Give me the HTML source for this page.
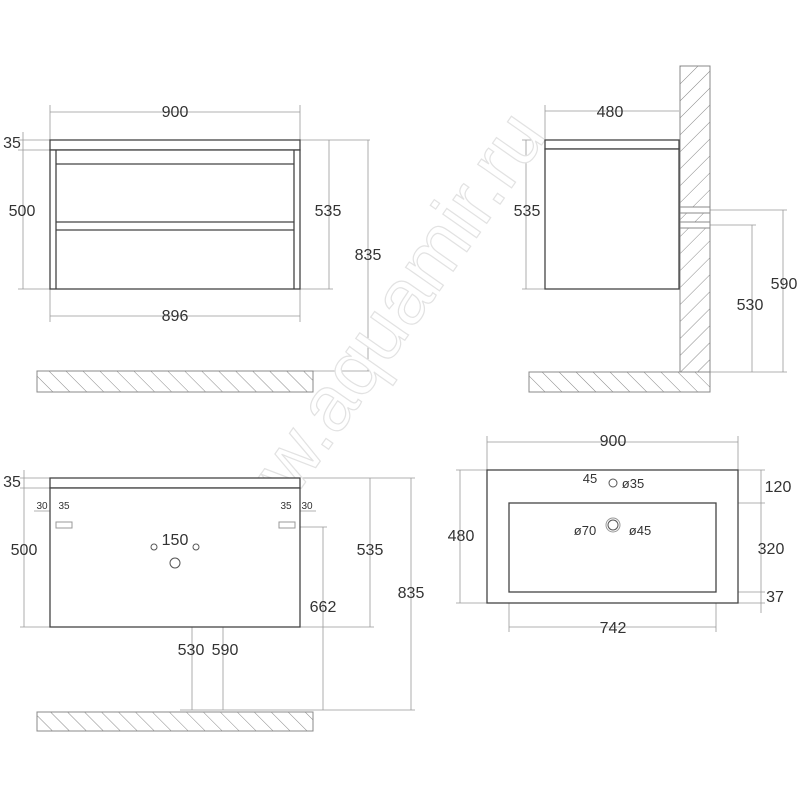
<!DOCTYPE html>
<html><head><meta charset="utf-8"><style>html,body{margin:0;padding:0;background:#fff}svg{display:block}text{font-family:"Liberation Sans",sans-serif;fill:#333;font-size:16px}</style></head><body>
<svg width="800" height="800" viewBox="0 0 800 800" xmlns="http://www.w3.org/2000/svg">
<defs>
<pattern id="h" width="12" height="12" patternUnits="userSpaceOnUse" patternTransform="rotate(-45)"><line x1="0" y1="0" x2="0" y2="12" stroke="#888" stroke-width="1"/></pattern>
<pattern id="h2" width="12" height="12" patternUnits="userSpaceOnUse" patternTransform="rotate(45)"><line x1="0" y1="0" x2="0" y2="12" stroke="#888" stroke-width="1"/></pattern>
</defs>
<g stroke="#999" stroke-width="0.8" fill="none">
<line x1="50" y1="112" x2="300" y2="112"/><line x1="50" y1="105" x2="50" y2="140"/><line x1="300" y1="105" x2="300" y2="140"/>
<line x1="50" y1="316" x2="300" y2="316"/><line x1="50" y1="289" x2="50" y2="322"/><line x1="300" y1="289" x2="300" y2="322"/>
<line x1="23" y1="132" x2="23" y2="289"/><line x1="18" y1="150" x2="50" y2="150"/><line x1="18" y1="289" x2="50" y2="289"/><line x1="18" y1="140" x2="50" y2="140"/>
<line x1="329" y1="140" x2="329" y2="289"/><line x1="300" y1="140" x2="370" y2="140"/><line x1="300" y1="289" x2="333" y2="289"/>
<line x1="368" y1="140" x2="368" y2="371"/><line x1="313" y1="371" x2="372" y2="371"/>
<line x1="545" y1="111" x2="679" y2="111"/><line x1="545" y1="105" x2="545" y2="140"/>
<line x1="526" y1="140" x2="526" y2="289"/><line x1="522" y1="140" x2="545" y2="140"/><line x1="522" y1="289" x2="545" y2="289"/>
<line x1="710" y1="210" x2="787" y2="210"/><line x1="710" y1="225" x2="756" y2="225"/>
<line x1="783" y1="210" x2="783" y2="372"/><line x1="752" y1="225" x2="752" y2="372"/><line x1="710" y1="372" x2="787" y2="372"/>
<line x1="24" y1="470" x2="24" y2="627"/><line x1="20" y1="478" x2="50" y2="478"/><line x1="20" y1="488" x2="50" y2="488"/><line x1="20" y1="627" x2="50" y2="627"/>
<line x1="300" y1="478" x2="415" y2="478"/><line x1="300" y1="627" x2="374" y2="627"/>
<line x1="370" y1="478" x2="370" y2="627"/><line x1="411" y1="478" x2="411" y2="710"/>
<line x1="72" y1="527" x2="327" y2="527"/><line x1="323" y1="527" x2="323" y2="710"/>
<line x1="199" y1="547" x2="226" y2="547"/><line x1="223" y1="547" x2="223" y2="710"/>
<line x1="180" y1="565" x2="193" y2="565"/><line x1="192" y1="565" x2="192" y2="710"/>
<line x1="313" y1="710" x2="415" y2="710"/><line x1="180" y1="710" x2="313" y2="710"/>
<line x1="154" y1="530" x2="154" y2="543"/><line x1="196" y1="530" x2="196" y2="543"/><line x1="154" y1="531" x2="196" y2="531"/>
<line x1="34" y1="511" x2="68" y2="511"/><line x1="57" y1="511" x2="57" y2="522"/><line x1="68" y1="511" x2="68" y2="522"/>
<line x1="282" y1="511" x2="316" y2="511"/><line x1="282" y1="511" x2="282" y2="522"/><line x1="292" y1="511" x2="292" y2="522"/>
<line x1="487" y1="442" x2="738" y2="442"/><line x1="487" y1="436" x2="487" y2="470"/><line x1="738" y1="436" x2="738" y2="470"/>
<line x1="509" y1="592" x2="509" y2="632"/><line x1="716" y1="592" x2="716" y2="632"/><line x1="509" y1="627" x2="716" y2="627"/>
<line x1="460" y1="470" x2="460" y2="603"/><line x1="456" y1="470" x2="487" y2="470"/><line x1="456" y1="603" x2="487" y2="603"/>
<line x1="761" y1="470" x2="761" y2="613"/><line x1="738" y1="470" x2="765" y2="470"/><line x1="716" y1="503" x2="765" y2="503"/><line x1="716" y1="592" x2="765" y2="592"/><line x1="738" y1="603" x2="765" y2="603"/>
<line x1="600" y1="471" x2="600" y2="482"/>
</g>
<text x="0" y="0" transform="translate(230,590) rotate(-55)" style="font-size:78px;fill:#fff;stroke:#e2e2e2;stroke-width:1.2">www.aquamir.ru</text>
<g stroke="#888" stroke-width="1">
<rect x="37" y="371" width="276" height="21" fill="url(#h)"/>
<rect x="529" y="372" width="181" height="20" fill="url(#h)"/>
<rect x="680" y="66" width="30" height="306" fill="url(#h2)"/>
<rect x="37" y="712" width="276" height="19" fill="url(#h)"/>
<rect x="680" y="207" width="30" height="6" fill="#fff"/><rect x="680" y="222" width="30" height="6" fill="#fff"/>
</g>
<g stroke="#444" stroke-width="1.3" fill="#fff">
<rect x="50" y="140" width="250" height="10"/><rect x="50" y="150" width="250" height="139"/>
<line x1="56" y1="150" x2="56" y2="289"/><line x1="294" y1="150" x2="294" y2="289"/>
<line x1="56" y1="164" x2="294" y2="164"/><line x1="56" y1="222" x2="294" y2="222"/><line x1="56" y1="230" x2="294" y2="230"/>
<rect x="545" y="140" width="134" height="9"/><rect x="545" y="149" width="134" height="140"/>
<rect x="50" y="478" width="250" height="10"/><rect x="50" y="488" width="250" height="139"/>
<rect x="487" y="470" width="251" height="133"/><rect x="509" y="503" width="207" height="89"/>
</g>
<g stroke="#555" fill="none" stroke-width="1">
<rect x="56" y="522" width="16" height="6" stroke="#999"/><rect x="279" y="522" width="16" height="6" stroke="#999"/>
<circle cx="154" cy="547" r="3"/><circle cx="196" cy="547" r="3"/><circle cx="175" cy="563" r="5"/>
<circle cx="613" cy="483" r="4"/><circle cx="613" cy="525" r="7" stroke="#999"/><circle cx="613" cy="525" r="5"/>
</g>
<g text-anchor="middle">
<text x="175" y="117">900</text><text x="175" y="321">896</text>
<text x="12" y="148">35</text><text x="22" y="216">500</text><text x="328" y="216">535</text><text x="368" y="260">835</text>
<text x="610" y="117">480</text><text x="527" y="216">535</text><text x="784" y="289">590</text><text x="750" y="310">530</text>
<text x="12" y="487">35</text><text x="24" y="555">500</text><text x="175" y="545">150</text>
<text x="370" y="555">535</text><text x="411" y="598">835</text><text x="323" y="612">662</text>
<text x="191" y="655">530</text><text x="225" y="655">590</text>
<text x="42" y="509" style="font-size:10px">30</text><text x="64" y="509" style="font-size:10px">35</text>
<text x="286" y="509" style="font-size:10px">35</text><text x="307" y="509" style="font-size:10px">30</text>
<text x="613" y="446">900</text><text x="613" y="633">742</text><text x="461" y="541">480</text>
<text x="778" y="492">120</text><text x="771" y="554">320</text><text x="775" y="602">37</text>
<text x="590" y="483" style="font-size:13px">45</text><text x="633" y="488" style="font-size:13px">ø35</text>
<text x="585" y="535" style="font-size:13px">ø70</text><text x="640" y="535" style="font-size:13px">ø45</text>
</g>
</svg>
</body></html>
